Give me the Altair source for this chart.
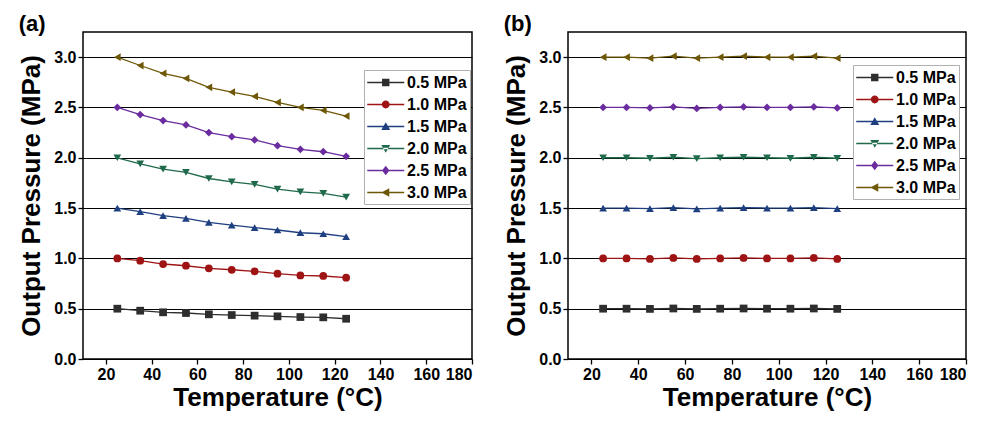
import altair as alt
import pandas as pd

FONT = "Liberation Sans"

temps = [25, 35, 45, 55, 65, 75, 85, 95, 105, 115, 125]
series = ["0.5 MPa", "1.0 MPa", "1.5 MPa", "2.0 MPa", "2.5 MPa", "3.0 MPa"]
colors = ["#2e2e2e", "#9e1414", "#1e3f80", "#1f6a4a", "#6a2c9e", "#6e5808"]
shapes = ["square", "circle", "triangle-up", "triangle-down", "diamond", "triangle-left"]

# panel (a): output pressure drifts down with temperature
a_05 = [0.50, 0.48, 0.464, 0.457, 0.444, 0.437, 0.431, 0.424, 0.417, 0.414, 0.40]
a_10 = [1.00, 0.977, 0.944, 0.927, 0.901, 0.887, 0.871, 0.848, 0.831, 0.825, 0.808]
a_15 = [1.50, 1.464, 1.424, 1.397, 1.358, 1.331, 1.305, 1.282, 1.255, 1.245, 1.216]
a_20 = [2.00, 1.94, 1.887, 1.854, 1.794, 1.761, 1.735, 1.688, 1.662, 1.646, 1.609]
a_25 = [2.50, 2.43, 2.37, 2.326, 2.25, 2.21, 2.177, 2.12, 2.084, 2.06, 2.014]
a_30 = [3.00, 2.917, 2.838, 2.788, 2.70, 2.653, 2.61, 2.55, 2.50, 2.47, 2.415]

# panel (b): output pressure stays flat
b_05 = [0.50, 0.50, 0.498, 0.502, 0.498, 0.50, 0.502, 0.50, 0.50, 0.502, 0.498]
b_10 = [1.00, 1.00, 0.995, 1.005, 0.995, 1.00, 1.005, 1.00, 1.00, 1.005, 0.995]
b_15 = [1.50, 1.50, 1.495, 1.505, 1.492, 1.50, 1.505, 1.50, 1.50, 1.505, 1.495]
b_20 = [2.00, 2.00, 1.995, 2.005, 1.992, 2.00, 2.005, 2.00, 1.995, 2.005, 1.995]
b_25 = [2.50, 2.50, 2.495, 2.505, 2.49, 2.50, 2.505, 2.50, 2.50, 2.505, 2.495]
b_30 = [3.00, 3.00, 2.99, 3.01, 2.99, 3.00, 3.01, 3.00, 3.00, 3.01, 2.99]

x_major = [20, 40, 60, 80, 100, 120, 140, 160, 180]
y_major = [0.0, 0.5, 1.0, 1.5, 2.0, 2.5, 3.0]

# legend glyphs: a short line with the marker in its middle
LINE = "M-1,-0.08H3V0.08H-1Z"
legend_paths = [
    LINE + "M0.6,-0.4H1.4V0.4H0.6Z",
    LINE + "M1.42,0A0.42,0.42,0,1,1,0.58,0A0.42,0.42,0,1,1,1.42,0Z",
    LINE + "M1,-0.46L1.48,0.37H0.52Z",
    LINE + "M1,0.46L1.48,-0.37H0.52Z",
    LINE + "M1,-0.52L1.4,0L1,0.52L0.6,0Z",
    LINE + "M0.52,0L1.38,-0.46V0.46Z",
]


def long_df(cols):
    rows = []
    for s, vals in zip(series, cols):
        for t, v in zip(temps, vals):
            rows.append({"T": t, "P": v, "series": s})
    return pd.DataFrame(rows)


def panel(df, label, W, H, lx, ly):
    xs = alt.Scale(domain=[10, 180], nice=False, zero=False)
    ys = alt.Scale(domain=[0, 3.25], nice=False, zero=True)
    cs = alt.Scale(domain=series, range=colors)

    x_enc = alt.X("T:Q", scale=xs, axis=alt.Axis(
        values=x_major, title="Temperature (°C)", ticks=True, tickSize=5, tickWidth=1.3,
        tickColor="black", domain=False, grid=False, labelFont=FONT, labelFontSize=16,
        labelFontWeight="bold", labelColor="black", labelPadding=2, titleFont=FONT,
        titleFontSize=26, titleFontWeight="bold", titleColor="black", titlePadding=2))
    y_enc = alt.Y("P:Q", scale=ys, axis=alt.Axis(
        values=y_major, format=".1f", title="Output Pressure (MPa)", ticks=True,
        tickSize=5, tickWidth=1.3, tickColor="black", domain=False, grid=True,
        gridColor="black", gridWidth=1.2, labelFont=FONT, labelFontSize=16,
        labelFontWeight="bold", labelColor="black", labelPadding=2, titleFont=FONT,
        titleFontSize=26, titleFontWeight="bold", titleColor="black", titlePadding=9))

    lines = alt.Chart(df).mark_line(strokeWidth=1.3).encode(
        x=x_enc, y=y_enc,
        color=alt.Color("series:N", scale=cs, legend=None),
        detail="series:N",
    )

    points = alt.Chart(df).mark_point(filled=True, opacity=1, size=60).encode(
        x=x_enc, y=y_enc,
        color=alt.Color("series:N", scale=cs, legend=None),
        shape=alt.Shape("series:N", scale=alt.Scale(domain=series, range=shapes), legend=None),
    )

    leg_kw = dict(orient="none", legendX=lx, legendY=ly, title=None, labelFont=FONT,
                  labelFontSize=16, labelFontWeight="bold", labelColor="black",
                  symbolSize=342, symbolStrokeWidth=0, symbolOpacity=1,
                  fillColor="white", strokeColor="#b0b0b0", padding=3, rowPadding=4,
                  labelOffset=21)

    legend_layer = alt.Chart(df).transform_filter("false").mark_point(
        filled=True, opacity=1, size=342).encode(
        x=x_enc, y=y_enc,
        color=alt.Color("series:N", scale=cs, legend=alt.Legend(**leg_kw)),
        shape=alt.Shape("series:N", scale=alt.Scale(domain=series, range=legend_paths),
                        legend=alt.Legend(**leg_kw)),
    )

    return alt.layer(lines, points, legend_layer).resolve_scale(
        color="independent", shape="independent"
    ).properties(
        width=W, height=H,
        title=alt.TitleParams(label, anchor="start", frame="bounds", font=FONT,
                              fontSize=22, fontWeight="bold", color="black", offset=-21,
                              baseline="alphabetic"),
    )


df_a = long_df([a_05, a_10, a_15, a_20, a_25, a_30])
df_b = long_df([b_05, b_10, b_15, b_20, b_25, b_30])

pa = panel(df_a, "(a)", 389, 327, 281, 38)
pb = panel(df_b, "(b)", 398, 327, 285, 33)

chart = alt.hconcat(pa, pb, spacing=29).properties(
    padding={"left": 10, "top": 4, "right": 0, "bottom": 0}
).configure_view(stroke="black", strokeWidth=1.5)

chart.save("out.html", embed_options={"renderer": "svg", "actions": False})
